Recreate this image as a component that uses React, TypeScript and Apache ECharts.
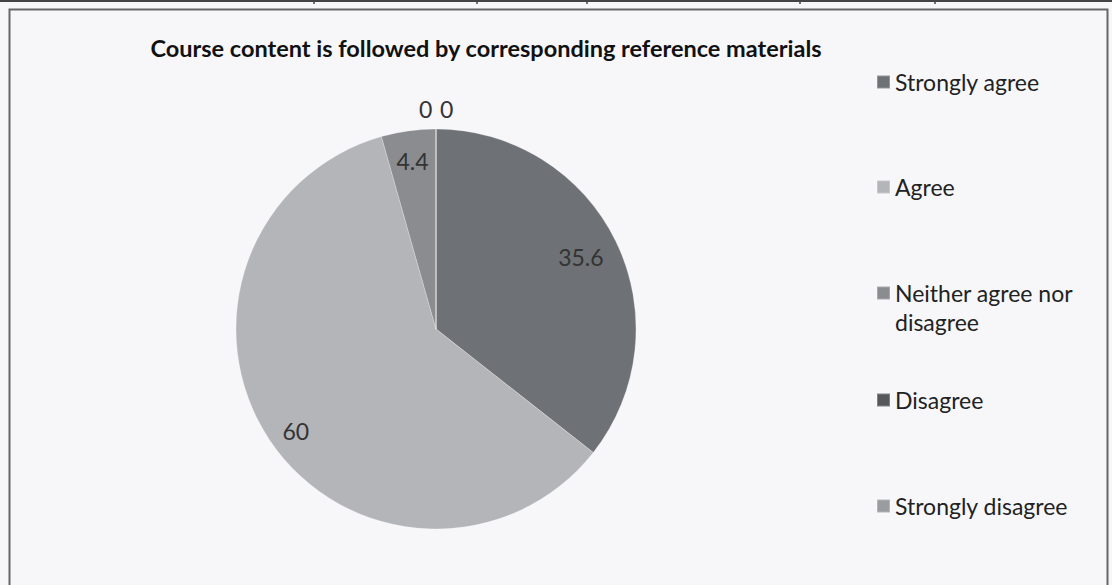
import React, { useEffect, useRef } from "react";
import * as echarts from "echarts";

const categories = [
  "Strongly agree",
  "Agree",
  "Neither agree nor disagree",
  "Disagree",
  "Strongly disagree",
];
const values = [35.6, 60, 4.4, 0, 0];
const colors = ["#6e7175", "#b3b5b9", "#8a8c90", "#55575b", "#9a9ca0"];
const titleText = "Course content is followed by corresponding reference materials";
const tableTicks = [314, 477, 587, 800, 935];

export default function App() {
  const ref = useRef<HTMLDivElement>(null);
  useEffect(() => {
    document.body.style.margin = "0";
    const chart = echarts.init(ref.current!, null, { renderer: "svg" });
    const font = "Lato";
    const legendTops = [65, 170, 244.5, 383, 489];
    const legends = categories.map((name, i) => ({
      orient: "vertical",
      left: 871,
      top: legendTops[i],
      itemWidth: 13,
      itemHeight: 13,
      itemGap: 0,
      icon: "rect",
      selectedMode: false,
      data: [name],
      formatter: i === 2 ? (n: string) => "\n" + n : "{name}",
      textStyle:
        i === 2
          ? {
              fontFamily: font,
              fontSize: 23,
              color: "#222",
              lineHeight: 29,
              width: 200,
              overflow: "break",
            }
          : { fontFamily: font, fontSize: 23, color: "#222", lineHeight: 24 },
    }));
    const data = categories.map((name, i) => ({
      name,
      value: values[i],
      itemStyle: { color: colors[i] },
    }));
    const labelData = categories.map((name, i) => ({
      name,
      value: values[i],
      label: values[i] === 0 ? { position: "outside" } : { position: "inside" },
    }));
    const labelShift: Record<number, { dx?: number; dy?: number }> = {
      0: { dx: -8, dy: 2 },
      1: { dx: 1, dy: 7 },
      3: { dx: -22 },
      4: { dx: -1 },
    };
    chart.setOption({
      animation: false,
      backgroundColor: "#f7f7fa",
      title: {
        text: titleText,
        left: 481,
        top: 28,
        textAlign: "center",
        textStyle: { fontFamily: font, fontSize: 23.5, fontWeight: "bold", color: "#111", lineHeight: 30 },
      },
      legend: legends,
      graphic: [
        { type: "line", shape: { x1: 0, y1: 1, x2: 1112, y2: 1 }, style: { stroke: "#444", lineWidth: 2 } },
        ...tableTicks.map((x) => ({
          type: "line",
          shape: { x1: x, y1: 0, x2: x, y2: 4 },
          style: { stroke: "#444", lineWidth: 1.5 },
        })),
        {
          type: "rect",
          shape: { x: 9.5, y: 9.5, width: 1098, height: 600 },
          style: { fill: "none", stroke: "#666", lineWidth: 2 },
        },
      ],
      series: [
        {
          type: "pie",
          center: [436, 329],
          radius: [0, 200],
          startAngle: 90,
          clockwise: true,
          avoidLabelOverlap: false,
          silent: true,
          label: { show: false },
          labelLine: { show: false },
          itemStyle: { borderColor: "rgba(255,255,255,0.25)", borderWidth: 1 },
          data,
        },
        {
          type: "pie",
          center: [436, 329],
          radius: [134, 200],
          startAngle: 90,
          clockwise: true,
          avoidLabelOverlap: false,
          silent: true,
          itemStyle: { color: "rgba(0,0,0,0)" },
          label: {
            show: true,
            formatter: "{c}",
            fontFamily: font,
            fontSize: 23,
            color: "#333",
          },
          labelLine: { show: false, length: 20, length2: 0 },
          labelLayout: (p: any) => labelShift[p.dataIndex] || {},
          data: labelData,
        },
      ],
    } as any);
    return () => chart.dispose();
  }, []);
  return <div ref={ref} style={{ width: 1112, height: 585 }} />;
}
